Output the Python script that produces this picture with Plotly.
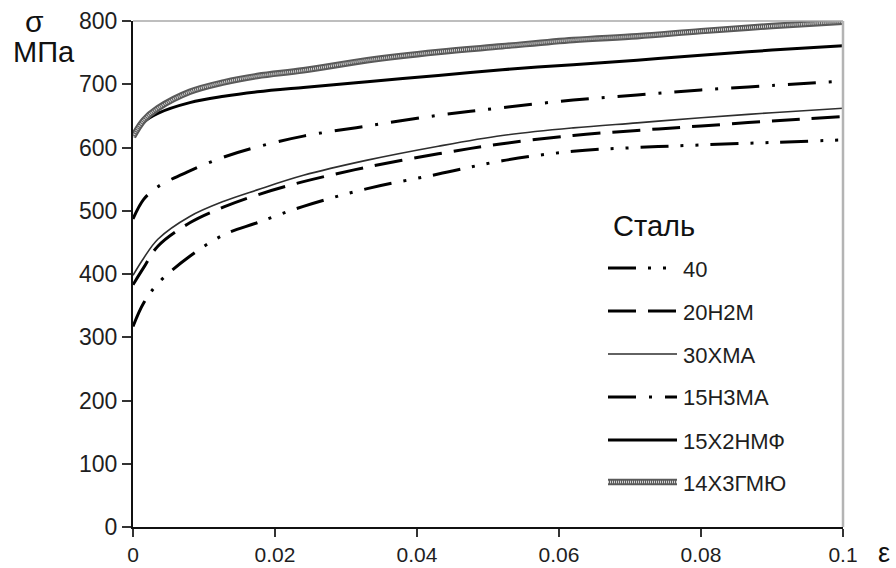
import plotly.graph_objects as go

# Strain values (shared by all curves)
eps = [0, 0.0015, 0.0035, 0.008, 0.0128, 0.0175, 0.024, 0.033, 0.043,
       0.052, 0.062, 0.071, 0.08, 0.09, 0.1]

# True stress, MPa, for each steel grade
s_40 = [317, 354, 385, 428, 462, 481, 507, 535, 558, 579, 594, 600, 604, 608, 612]
s_20n2m = [383, 410, 444, 481, 506, 525, 546, 569, 590, 606, 619, 627, 634, 642, 649]
s_30xma = [398, 425, 455, 491, 515, 533, 556, 580, 602, 619, 631, 639, 647, 655, 662]
s_15n3ma = [487, 518, 538, 563, 585, 601, 618, 634, 651, 663, 675, 683, 691, 698, 705]
s_15x2nmf = [617, 640, 654, 671, 681, 688, 695, 704, 714, 723, 731, 738, 746, 754, 761]
s_14x3gmyu = [617, 643, 662, 688, 703, 713, 722, 738, 751, 760, 770, 776, 784, 792, 799]

names = ["40", "20Н2М", "30ХМА", "15Н3МА", "15Х2НМФ", "14Х3ГМЮ"]
series = [s_40, s_20n2m, s_30xma, s_15n3ma, s_15x2nmf, s_14x3gmyu]

x_ticks = [0, 0.02, 0.04, 0.06, 0.08, 0.1]
x_ticktext = ["0", "0.02", "0.04", "0.06", "0.08", "0.1"]
y_ticks = [0, 100, 200, 300, 400, 500, 600, 700, 800]

FONT = "Liberation Sans, Arial, sans-serif"
TXT = "#1e1e1e"

# line styles: list of (color, width, dash) layers per grade
styles = {
    "40": [("#000000", 3, "28px,12px,3px,12px,3px,12px")],
    "20Н2М": [("#000000", 3, "28px,12px")],
    "30ХМА": [("#2e2e2e", 1.6, "solid")],
    "15Н3МА": [("#000000", 3, "28px,13px,3px,13px")],
    "15Х2НМФ": [("#000000", 3, "solid")],
    "14Х3ГМЮ": [("#5a5a5a", 6.5, "solid"), ("#d2d2d2", 2.5, "1px,1px")],
}

fig = go.Figure()
for name, ys in zip(names, series):
    for color, width, dash in styles[name]:
        fig.add_trace(go.Scatter(
            x=eps, y=ys, mode="lines", name=name, showlegend=False,
            line=dict(color=color, width=width, dash=dash,
                      shape="spline", smoothing=1.0),
            hoverinfo="skip",
        ))

# plot area in pixels
L, R, T, B = 133, 843, 21, 527
W, H = 896, 568


def px_x(px):
    return (px - L) / (R - L)


def px_y(py):
    return (B - py) / (B - T)


shapes = []
annotations = []

# light frame on the top and right sides
shapes.append(dict(type="line", xref="paper", yref="paper", x0=0, x1=1, y0=1, y1=1,
                   line=dict(color="#a8a8a8", width=1.5)))
shapes.append(dict(type="line", xref="paper", yref="paper", x0=1, x1=1, y0=0, y1=1,
                   line=dict(color="#b4b4b4", width=2.5)))

# legend block
annotations.append(dict(text="Сталь", xref="paper", yref="paper",
                        x=px_x(611), y=px_y(226), xanchor="left", yanchor="middle",
                        showarrow=False, font=dict(family=FONT, size=29, color="#111")))
row_y = [268, 311, 354, 397, 440, 482]
for name, py in zip(names, row_y):
    for color, width, dash in styles[name]:
        shapes.append(dict(type="line", xref="paper", yref="paper",
                           x0=px_x(608), x1=px_x(677), y0=px_y(py), y1=px_y(py),
                           line=dict(color=color, width=width, dash=dash)))
    annotations.append(dict(text=name, xref="paper", yref="paper",
                            x=px_x(681), y=px_y(py + 1), xanchor="left", yanchor="middle",
                            showarrow=False, font=dict(family=FONT, size=22, color=TXT)))

# axis titles
annotations.append(dict(text="σ", xref="paper", yref="paper", x=px_x(34), y=px_y(22),
                        xanchor="center", yanchor="middle", showarrow=False,
                        font=dict(family=FONT, size=30, color="#111")))
annotations.append(dict(text="МПа", xref="paper", yref="paper", x=px_x(44), y=px_y(52),
                        xanchor="center", yanchor="middle", showarrow=False,
                        font=dict(family=FONT, size=29, color="#111")))
annotations.append(dict(text="ε", xref="paper", yref="paper", x=px_x(884), y=px_y(553),
                        xanchor="center", yanchor="middle", showarrow=False,
                        font=dict(family=FONT, size=27, color="#111")))

fig.update_layout(
    width=W, height=H,
    margin=dict(l=L, r=W - R, t=T, b=H - B, autoexpand=False),
    paper_bgcolor="white", plot_bgcolor="white",
    font=dict(family=FONT, size=22, color=TXT),
    shapes=shapes, annotations=annotations,
    showlegend=False,
)
fig.update_xaxes(
    range=[0, 0.1], tickvals=x_ticks, ticktext=x_ticktext, automargin=False,
    showgrid=False, zeroline=False, showline=True, linecolor="#111", linewidth=2,
    ticks="outside", ticklen=8, tickwidth=2, tickcolor="#333",
    tickfont=dict(family=FONT, size=21, color=TXT),
)
fig.update_yaxes(
    range=[0, 800], tickvals=y_ticks, automargin=False,
    showgrid=False, zeroline=False, showline=True, linecolor="#111", linewidth=2,
    ticks="outside", ticklen=9, tickwidth=2, tickcolor="#333",
    tickfont=dict(family=FONT, size=23, color=TXT),
)

fig.write_html("out.html")
